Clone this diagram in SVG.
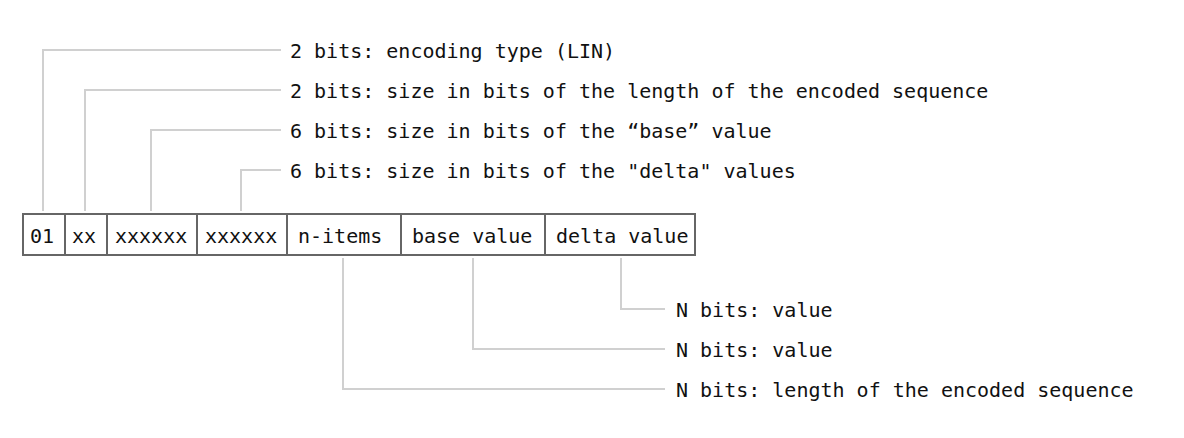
<svg xmlns="http://www.w3.org/2000/svg" width="1184" height="438" viewBox="0 0 1184 438">
  <style>
    text { font-family: "DejaVu Sans Mono", "Liberation Mono", monospace; font-size: 20px; fill: #111; }
    .cell { fill: #fff; stroke: #666; stroke-width: 2; }
    .lead { fill: none; stroke: #d0d0d0; stroke-width: 2; }
  </style>
  <rect width="1184" height="438" fill="#fff"/>

  <!-- leader lines from the fields to their descriptions -->
  <g id="connectors">
    <polyline class="lead" points="43,211 43,50 281,50"/>
    <polyline class="lead" points="85,211 85,90 281,90"/>
    <polyline class="lead" points="151,211 151,130 281,130"/>
    <polyline class="lead" points="241,211 241,170 281,170"/>
    <polyline class="lead" points="621,258 621,309 665,309"/>
    <polyline class="lead" points="473,258 473,349 665,349"/>
    <polyline class="lead" points="343,258 343,389 665,389"/>
  </g>

  <!-- field cells -->
  <g id="field-type"><rect class="cell" x="23" y="214" width="42" height="41"/><text x="30" y="243">01</text></g>
  <g id="field-len-size"><rect class="cell" x="65" y="214" width="42" height="41"/><text x="72" y="243">xx</text></g>
  <g id="field-base-size"><rect class="cell" x="107" y="214" width="90" height="41"/><text x="115" y="243">xxxxxx</text></g>
  <g id="field-delta-size"><rect class="cell" x="197" y="214" width="90" height="41"/><text x="205" y="243">xxxxxx</text></g>
  <g id="field-n-items"><rect class="cell" x="287" y="214" width="114" height="41"/><text x="298" y="243">n-items</text></g>
  <g id="field-base-value"><rect class="cell" x="401" y="214" width="144" height="41"/><text x="412" y="243">base value</text></g>
  <g id="field-delta-value"><rect class="cell" x="545" y="214" width="150" height="41"/><text x="556" y="243">delta value</text></g>

  <!-- descriptions -->
  <g id="desc-type"><text x="290" y="58">2 bits: encoding type (LIN)</text></g>
  <g id="desc-len-size"><text x="290" y="98">2 bits: size in bits of the length of the encoded sequence</text></g>
  <g id="desc-base-size"><text x="290" y="138">6 bits: size in bits of the “base” value</text></g>
  <g id="desc-delta-size"><text x="290" y="178">6 bits: size in bits of the "delta" values</text></g>
  <g id="desc-delta-value"><text x="676" y="317">N bits: value</text></g>
  <g id="desc-base-value"><text x="676" y="357">N bits: value</text></g>
  <g id="desc-n-items"><text x="676" y="397">N bits: length of the encoded sequence</text></g>
</svg>
